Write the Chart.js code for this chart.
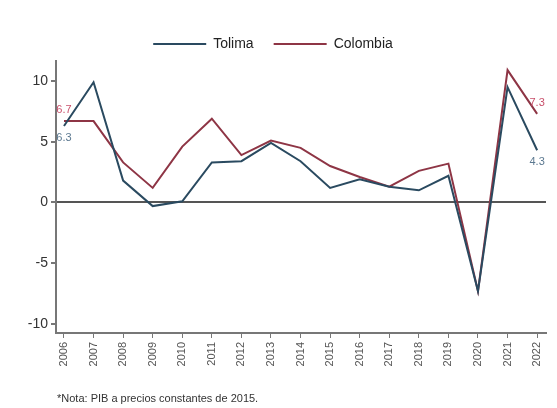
<!DOCTYPE html>
<html>
<head>
<meta charset="utf-8">
<script src="https://cdn.jsdelivr.net/npm/chart.js@4.4.0/dist/chart.umd.min.js"></script>
<style>
  body { margin: 0; background: #fff; }
  #wrap { position: relative; width: 557px; height: 408px; }
  #nota { position: absolute; left: 57px; top: 392px; font: 11px "Liberation Sans", Arial, sans-serif; color: #333; }
</style>
</head>
<body>
<div id="wrap">
  <canvas id="myChart" width="557" height="408"></canvas>
  <div id="nota">*Nota: PIB a precios constantes de 2015.</div>
</div>
<script>
// data (crecimiento PIB, %)
let years = [2006, 2007, 2008, 2009, 2010, 2011, 2012, 2013, 2014, 2015, 2016, 2017, 2018, 2019, 2020, 2021, 2022]
let tolima = [6.3, 9.9, 1.8, -0.3, 0.1, 3.3, 3.4, 4.9, 3.4, 1.2, 1.9, 1.3, 1.0, 2.2, -7.3, 9.5, 4.3]
let colombia = [6.7, 6.7, 3.3, 1.2, 4.6, 6.9, 3.9, 5.1, 4.5, 3.0, 2.1, 1.3, 2.6, 3.2, -7.3, 10.9, 7.3]
let yTicks = [-10, -5, 0, 5, 10]

let font = '"Liberation Sans", Arial, sans-serif'
let labelColors = ['#5b7890', '#c9506b']
let labelShift = [12, -11]

let toPoints = vals => vals.map((v, i) => ({ x: years[i], y: v }))

// first / last value labels
const endLabels = {
    id: 'endLabels',
    afterDatasetsDraw(chart) {
        let ctx = chart.ctx
        ctx.save()
        ctx.font = '11px ' + font
        ctx.textAlign = 'center'
        ctx.textBaseline = 'middle'
        chart.data.datasets.forEach((ds, i) => {
            let meta = chart.getDatasetMeta(i)
            ;[0, meta.data.length - 1].forEach(j => {
                let pt = meta.data[j]
                ctx.fillStyle = labelColors[i]
                ctx.fillText(ds.data[j].y.toFixed(1), pt.x, pt.y + labelShift[i])
            })
        })
        ctx.restore()
    }
}

// legend: keep the wide item gap but a shorter box
const legendHeight = {
    id: 'legendHeight',
    beforeLayout(chart) {
        let lg = chart.legend
        if (lg && !lg._patched) {
            let fit = lg.fit
            lg.fit = function () { fit.call(this); this.height = 44 }
            lg._patched = true
        }
    }
}

new Chart(document.getElementById('myChart'), {
    type: 'line',
    data: {
        datasets: [
            { label: 'Tolima', data: toPoints(tolima), borderColor: '#2a4a60', backgroundColor: '#2a4a60', borderWidth: 2, pointRadius: 0, tension: 0 },
            { label: 'Colombia', data: toPoints(colombia), borderColor: '#8e3545', backgroundColor: '#8e3545', borderWidth: 2, pointRadius: 0, tension: 0 }
        ]
    },
    options: {
        responsive: false,
        animation: false,
        layout: { padding: { left: 0, right: 11, top: 17, bottom: 38 } },
        plugins: {
            tooltip: { enabled: false },
            legend: {
                position: 'top',
                labels: {
                    usePointStyle: true,
                    pointStyle: 'line',
                    pointStyleWidth: 53,
                    padding: 20,
                    color: '#222',
                    font: { family: font, size: 14 }
                }
            }
        },
        scales: {
            x: {
                type: 'linear',
                min: 2005.73,
                max: 2022.3,
                afterBuildTicks: axis => { axis.ticks = years.map(v => ({ value: v })) },
                afterFit: axis => { axis.height = 37 },
                ticks: {
                    autoSkip: false,
                    minRotation: 90,
                    maxRotation: 90,
                    padding: 4,
                    color: '#555',
                    font: { family: font, size: 11 },
                    callback: v => String(v)
                },
                grid: { drawOnChartArea: false, drawTicks: true, tickLength: 5, tickColor: '#777', tickWidth: 1 },
                border: { display: true, color: '#777', width: 2 }
            },
            y: {
                min: -10.75,
                max: 11.65,
                afterBuildTicks: axis => { axis.ticks = yTicks.map(v => ({ value: v })) },
                afterFit: axis => { axis.width = 56 },
                ticks: {
                    padding: 3,
                    color: '#333',
                    font: { family: font, size: 14 },
                    callback: v => String(v)
                },
                grid: {
                    drawTicks: true,
                    tickLength: 5,
                    tickColor: '#777',
                    color: c => c.tick && c.tick.value === 0 ? '#555' : 'rgba(0,0,0,0)',
                    lineWidth: 2
                },
                border: { display: true, color: '#777', width: 2 }
            }
        }
    },
    plugins: [endLabels, legendHeight]
})
</script>
</body>
</html>
